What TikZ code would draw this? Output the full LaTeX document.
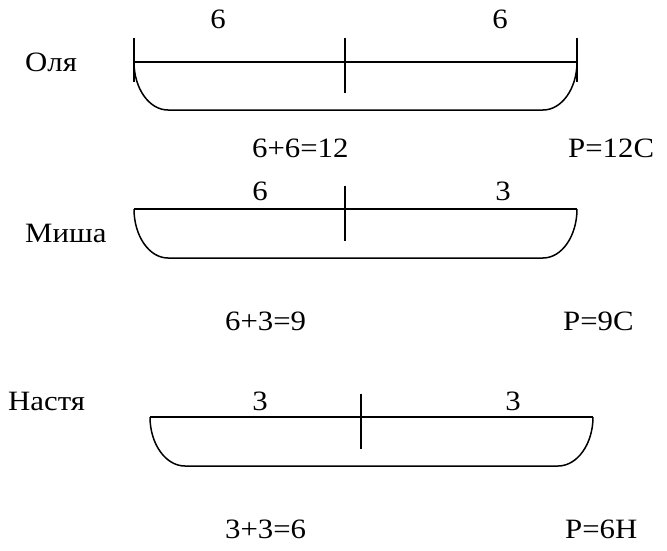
\documentclass[tikz,border=0pt]{standalone}
\usepackage{fontspec}
\setmainfont{Liberation Serif}[FakeStretch=1.1]
\usepackage{tikz}
\usetikzlibrary{positioning}

\tikzset{
  lbl/.style={inner sep=0pt,anchor=base},
  txt/.style={inner sep=0pt,anchor=base west},
  bar/.style={line width=1.5pt,line cap=butt},
}

\begin{document}
\begin{tikzpicture}[x=1pt,y=-1pt,font=\fontsize{28}{32}\selectfont]
\useasboundingbox (0,0) rectangle (667,551);
% Оля
\node[txt] (olya) at (25,72) {Оля};
\node[lbl] (o6a) at (218,29) {6};
\node[lbl] (o6b) at (500,29) {6};
\draw[bar] (134,38) -- (134,82);
\draw[bar] (577,38) -- (577,82);
\draw[bar] (345,38) -- (345,93);
\draw[bar] (134,62) -- (577,62);
\draw[bar] (134,62) .. controls (134,88.5) and (149.2,110) .. (168,110)
  -- (543,110) .. controls (561.8,110) and (577,88.5) .. (577,62);
\node[txt] (osum) at (252,157) {6+6=12};
\node[txt] (ores) at (568,157) {Р=12С};
% Миша
\node[txt] (misha) at (25,242) {Миша};
\node[lbl] (m6) at (260,200) {6};
\node[lbl] (m3) at (503,200) {3};
\draw[bar] (345,186) -- (345,241);
\draw[bar] (134,209) -- (577,209);
\draw[bar] (134,209) .. controls (134,236) and (149.2,258) .. (168,258)
  -- (543,258) .. controls (561.8,258) and (577,236) .. (577,209);
\node[txt] (msum) at (225,330) {6+3=9};
\node[txt] (mres) at (563,330) {Р=9С};
% Настя
\node[txt] (nastya) at (8,410) {Настя};
\node[lbl] (n3a) at (260,410) {3};
\node[lbl] (n3b) at (513,410) {3};
\draw[bar] (361,394) -- (361,449);
\draw[bar] (150,417) -- (593,417);
\draw[bar] (150,417) .. controls (150,444) and (165.7,466) .. (185,466)
  -- (558,466) .. controls (577.3,466) and (593,444) .. (593,417);
\node[txt] (nsum) at (225,538) {3+3=6};
\node[txt] (nres) at (565,538) {Р=6Н};
\end{tikzpicture}
\end{document}
